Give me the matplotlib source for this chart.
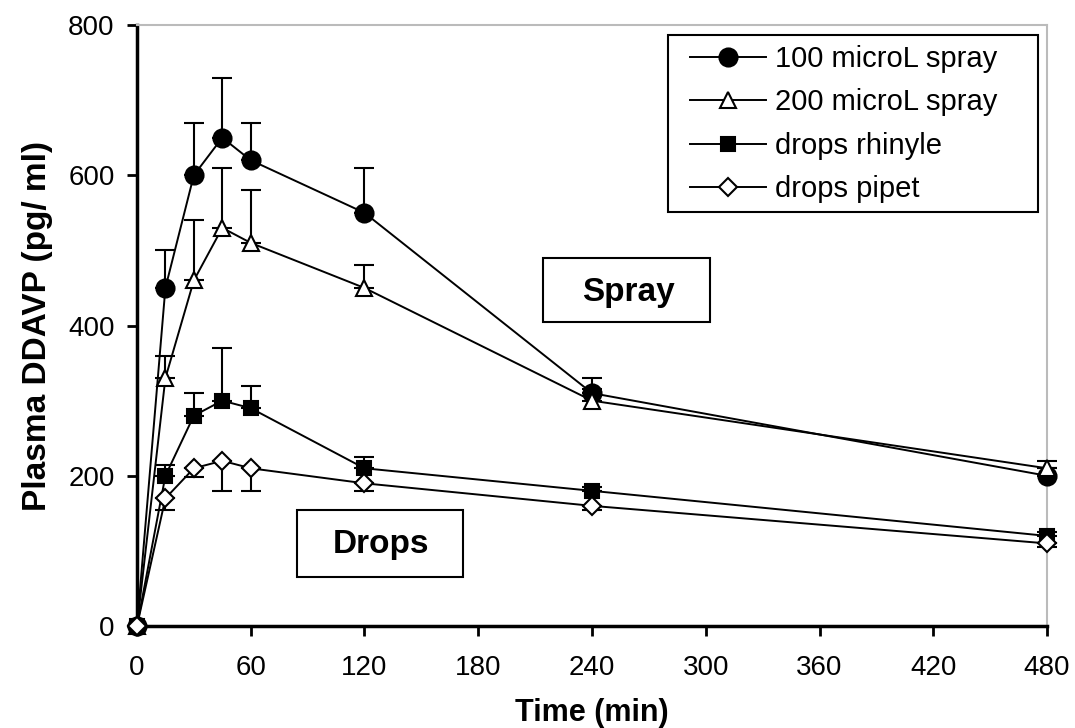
import matplotlib
matplotlib.use("Agg")
import matplotlib.pyplot as plt
from matplotlib.patches import Rectangle

plt.rcParams['font.family'] = ['Liberation Sans', 'DejaVu Sans']

time_min = [0, 15, 30, 45, 60, 120, 240, 480]
spray_100 = [0, 450, 600, 650, 620, 550, 310, 200]
spray_100_err = [0, 50, 70, 80, 50, 60, 20, 10]
spray_200 = [0, 330, 460, 530, 510, 450, 300, 210]
spray_200_err = [0, 30, 80, 80, 70, 30, 15, 10]
drops_rhinyle = [0, 200, 280, 300, 290, 210, 180, 120]
drops_rhinyle_err = [0, 15, 30, 70, 30, 15, 5, 5]
drops_pipet = [0, 170, 210, 220, 210, 190, 160, 110]
drops_pipet_err = [0, 15, 12, 40, 30, 10, 5, 5]

x_ticks = [0, 60, 120, 180, 240, 300, 360, 420, 480]
y_ticks = [0, 200, 400, 600, 800]

fig = plt.figure(figsize=(10.75, 7.28), dpi=100)
ax = fig.add_axes([0.1274, 0.140, 0.8466, 0.8257])

def draw(y, err, marker, face, ms, label, upper=True):
    yerr = [[0] * len(err), err] if upper else [err, [0] * len(err)]
    ax.errorbar(time_min, y, yerr=yerr, fmt='none', ecolor='black',
                elinewidth=1.5, capsize=7, capthick=1.5, zorder=2)
    ax.plot(time_min, y, color='black', lw=1.4, marker=marker, ms=ms,
            mfc=face, mec='black', mew=1.5, label=label, zorder=3)

draw(spray_100, spray_100_err, 'o', 'black', 13, '100 microL spray')
draw(spray_200, spray_200_err, '^', 'white', 12, '200 microL spray')
draw(drops_rhinyle, drops_rhinyle_err, 's', 'black', 10, 'drops rhinyle')
draw(drops_pipet, drops_pipet_err, 'D', 'white', 9, 'drops pipet', upper=False)

ax.set_xlim(0, 480)
ax.set_ylim(0, 800)
ax.set_xticks(x_ticks)
ax.set_yticks(y_ticks)
ax.tick_params(axis='both', labelsize=20, width=2, length=7, direction='out')
ax.tick_params(axis='x', pad=14)
ax.tick_params(axis='y', pad=9)
for s in ['left', 'bottom']:
    ax.spines[s].set_linewidth(2.5)
for s in ['top', 'right']:
    ax.spines[s].set_color('#bbbbbb')
    ax.spines[s].set_linewidth(1.5)
for art in ax.lines + ax.collections:
    art.set_clip_on(False)

ax.set_xlabel('Time (min)', fontsize=22, fontweight='bold', labelpad=12)
ax.set_ylabel('Plasma DDAVP (pg/ ml)', fontsize=24, fontweight='bold', labelpad=11)

leg = ax.legend(loc='upper left', bbox_to_anchor=(690 / 1075, 1 - 45 / 728),
                bbox_transform=fig.transFigure, borderaxespad=0, borderpad=0,
                fontsize=21, frameon=False, handlelength=2.6,
                handletextpad=0.3, labelspacing=0.53)
fig.add_artist(Rectangle((668 / 1075, 1 - 212 / 728), 370 / 1075, 177 / 728,
                         transform=fig.transFigure, fill=False, ec='black', lw=1.5))

fig.add_artist(Rectangle((543 / 1075, 1 - 322 / 728), 167 / 1075, 64 / 728,
                         transform=fig.transFigure, fill=False, ec='black', lw=1.5))
fig.add_artist(Rectangle((297 / 1075, 1 - 577 / 728), 166 / 1075, 67 / 728,
                         transform=fig.transFigure, fill=False, ec='black', lw=1.5))
fig.text(628 / 1075, 1 - 292 / 728, 'Spray', fontsize=24, fontweight='bold',
         ha='center', va='center')
fig.text(381 / 1075, 1 - 545 / 728, 'Drops', fontsize=24, fontweight='bold',
         ha='center', va='center')

fig.savefig('out.png', dpi=100)
